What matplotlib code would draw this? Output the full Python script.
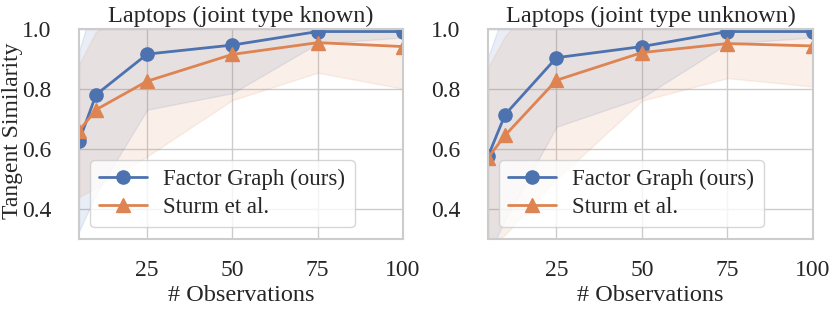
import matplotlib
matplotlib.use("Agg")
import matplotlib.pyplot as plt
import seaborn as sns
import numpy as np

# =====================
# data
# =====================
n_obs = [5, 10, 25, 50, 75, 100]

known_fg = [0.625, 0.78, 0.915, 0.945, 0.99, 0.99]
known_fg_std = [0.30, 0.33, 0.185, 0.16, 0.04, 0.02]
known_sturm = [0.66, 0.73, 0.825, 0.914, 0.953, 0.94]
known_sturm_std = [0.22, 0.26, 0.25, 0.152, 0.10, 0.14]

unknown_fg = [0.575, 0.714, 0.903, 0.94, 0.99, 0.99]
unknown_fg_std = [0.33, 0.35, 0.23, 0.17, 0.04, 0.02]
unknown_sturm = [0.57, 0.645, 0.828, 0.92, 0.95, 0.942]
unknown_sturm_std = [0.30, 0.33, 0.33, 0.16, 0.115, 0.135]

titles = ["Laptops (joint type known)", "Laptops (joint type unknown)"]
labels = ["Factor Graph (ours)", "Sturm et al."]

# =====================
# style
# =====================
sns.set_theme(style="whitegrid")
plt.rcParams["font.family"] = ["Liberation Serif", "DejaVu Serif"]
plt.rcParams["font.size"] = 17.5

colors = sns.color_palette("deep")
c_fg, c_st = colors[0], colors[1]

fig = plt.figure(figsize=(8.3, 3.1), dpi=100)
ax1 = fig.add_axes([0.0952, 0.229, 0.3903, 0.679])
ax2 = fig.add_axes([0.588, 0.229, 0.3915, 0.679])

panels = [
    (ax1, known_fg, known_fg_std, known_sturm, known_sturm_std),
    (ax2, unknown_fg, unknown_fg_std, unknown_sturm, unknown_sturm_std),
]

x = np.array(n_obs)
for i, (ax, fg, fg_std, st, st_std) in enumerate(panels):
    fg = np.array(fg)
    st = np.array(st)
    ax.fill_between(x, fg - np.array(fg_std), fg + np.array(fg_std),
                    color=c_fg, alpha=0.12)
    ax.fill_between(x, st - np.array(st_std), st + np.array(st_std),
                    color=c_st, alpha=0.12)
    ax.plot(x, fg, color=c_fg, marker="o", markersize=9.5, lw=2, label=labels[0])
    ax.plot(x, st, color=c_st, marker="^", markersize=9.5, lw=2, label=labels[1])

    ax.set_xticks([0, 25, 50, 75, 100])
    ax.set_yticks([0.4, 0.6, 0.8, 1.0])
    ax.set_xlim(5, 100)
    ax.set_ylim(0.3, 1.0)
    ax.set_title(titles[i], fontsize=17.5, pad=5)
    ax.set_xlabel("# Observations", fontsize=17.5, labelpad=3)
    ax.tick_params(axis="x", labelsize=17, pad=9)
    ax.tick_params(axis="y", labelsize=17, pad=14)
    for s in ax.spines.values():
        s.set_linewidth(1.5)
        s.set_color("#cccccc")
    ax.legend(loc="lower left", bbox_to_anchor=(0.034, 0.055), borderaxespad=0,
              fontsize=16.5, frameon=True, handlelength=2.1,
              handletextpad=0.7, labelspacing=0.3)

ax1.set_ylabel("Tangent Similarity", fontsize=17)
# right edge of the rotated label sits ~23 px from the figure edge
ax1.yaxis.set_label_coords((23 - 79) / 324, 0.513)

fig.savefig("out.png", dpi=100)
